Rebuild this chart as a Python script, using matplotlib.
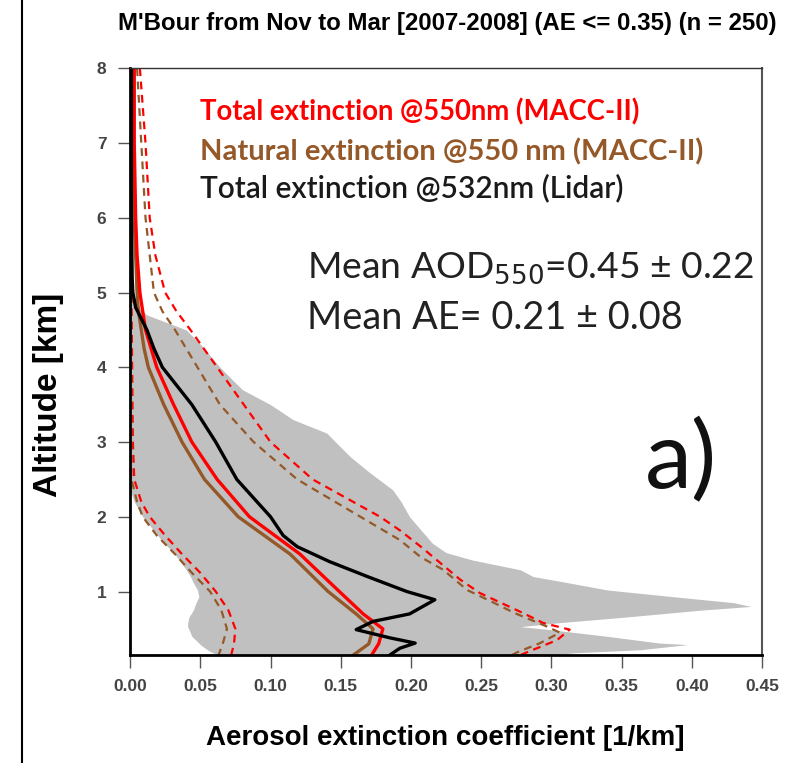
import matplotlib.pyplot as plt
from matplotlib.lines import Line2D

# gray envelope (lidar min / max)
env_alt = [5.0, 4.8, 4.7, 4.6, 4.5, 4.27, 4.0, 3.83, 3.7, 3.5, 3.3, 3.12, 2.93, 2.8, 2.6, 2.36, 2.2, 2.0,
           1.65, 1.52, 1.42, 1.29, 1.2, 1.12, 1.02, 0.93, 0.85, 0.8, 0.75, 0.66, 0.58, 0.53, 0.49, 0.40,
           0.31, 0.29, 0.22, 0.18, 0.15]
env_hi = [0.002, 0.006, 0.012, 0.026, 0.040, 0.052, 0.064, 0.073, 0.080, 0.100, 0.116, 0.140, 0.150, 0.157,
          0.170, 0.187, 0.193, 0.199, 0.215, 0.225, 0.244, 0.278, 0.287, 0.311, 0.340, 0.387, 0.430, 0.442,
          0.406, 0.354, 0.304, 0.278, 0.299, 0.340, 0.377, 0.397, 0.363, 0.316, 0.300]
env_lo = [0, 0, 0, 0, 0, 0, 0, 0, 0, 0, 0, 0, 0, 0, 0, 0, 0.003, 0.009,
          0.024, 0.031, 0.035, 0.040, 0.043, 0.045, 0.048, 0.049, 0.047, 0.046, 0.045, 0.042, 0.041, 0.041,
          0.042, 0.044, 0.049, 0.050, 0.055, 0.059, 0.063]

# MACC-II total extinction (mean)
tot_alt = [8, 7, 6, 5.5, 5, 4.75, 4.5, 4.25, 4, 3.5, 3, 2.5, 2, 1.5, 1.0, 0.7, 0.5, 0.3, 0.15]
tot_ext = [0.003, 0.003, 0.004, 0.005, 0.007, 0.009, 0.011, 0.015, 0.019, 0.031, 0.044, 0.062, 0.085, 0.121,
           0.149, 0.166, 0.180, 0.177, 0.172]
# MACC-II natural extinction (mean)
nat_alt = [8, 7, 6, 5, 4.75, 4.5, 4.25, 4, 3.5, 3, 2.5, 2, 1.5, 1.0, 0.7, 0.5, 0.3, 0.15]
nat_ext = [0.002, 0.002, 0.003, 0.005, 0.006, 0.008, 0.010, 0.013, 0.024, 0.037, 0.053, 0.077, 0.114, 0.141,
           0.161, 0.173, 0.170, 0.159]
# lidar total extinction (mean)
lid_alt = [8, 6, 5.2, 5, 4.8, 4.65, 4.5, 4.25, 4, 3.5, 3, 2.5, 2.0, 1.75, 1.6, 1.4, 1.2, 1.0, 0.89, 0.7,
           0.6, 0.49, 0.38, 0.31, 0.24, 0.15]
lid_ext = [0.001, 0.001, 0.0015, 0.002, 0.004, 0.008, 0.012, 0.017, 0.023, 0.044, 0.061, 0.076, 0.100,
           0.109, 0.119, 0.142, 0.169, 0.197, 0.217, 0.199, 0.173, 0.161, 0.185, 0.203, 0.192, 0.185]

# mean +/- std
tot_hi_alt = [8, 7, 6, 5.5, 5, 4.75, 4.5, 4, 3.5, 3, 2.5, 2.0, 1.82, 1.6, 1.16, 0.98, 0.71, 0.58, 0.49, 0.35,
              0.19, 0.15]
tot_hi = [0.007, 0.011, 0.014, 0.018, 0.025, 0.033, 0.043, 0.062, 0.081, 0.100, 0.130, 0.178, 0.192, 0.207,
          0.235, 0.249, 0.280, 0.294, 0.313, 0.304, 0.283, 0.278]
nat_hi_alt = [8, 7, 6, 5, 4.75, 4.5, 4, 3.5, 3, 2.5, 2, 1.69, 1.46, 1.29, 1.02, 0.85, 0.71, 0.53, 0.45, 0.31,
              0.19, 0.15]
nat_hi = [0.005, 0.008, 0.011, 0.017, 0.023, 0.032, 0.048, 0.064, 0.088, 0.119, 0.164, 0.192, 0.207, 0.223,
          0.240, 0.259, 0.274, 0.297, 0.306, 0.292, 0.276, 0.272]
tot_lo_alt = [8, 5, 3, 2.5, 2.2, 2.0, 1.75, 1.5, 1.25, 1.0, 0.75, 0.5, 0.3, 0.15]
tot_lo = [0.0008, 0.001, 0.002, 0.003, 0.008, 0.014, 0.025, 0.037, 0.050, 0.061, 0.070, 0.075, 0.074, 0.072]
nat_lo_alt = [8, 3, 2.5, 2.2, 2.0, 1.75, 1.5, 1.25, 1.0, 0.75, 0.5, 0.3, 0.15]
nat_lo = [0.0005, 0.0008, 0.001, 0.005, 0.009, 0.019, 0.032, 0.044, 0.057, 0.065, 0.069, 0.066, 0.063]

xticks = [0.00, 0.05, 0.10, 0.15, 0.20, 0.25, 0.30, 0.35, 0.40, 0.45]
yticks = [1, 2, 3, 4, 5, 6, 7, 8]

red = '#ff0000'
brown = '#955828'

fig = plt.figure(figsize=(7.93, 7.63), dpi=100)
ax = fig.add_axes([0.164, 0.1415, 0.797, 0.769])

ax.fill_betweenx(env_alt, env_lo, env_hi, color='#c0c0c0', lw=0)
dash = (0, (3.5, 2.5))
ax.plot(tot_hi, tot_hi_alt, color=red, lw=1.6, ls=dash)
ax.plot(nat_hi, nat_hi_alt, color=brown, lw=1.6, ls=dash)
ax.plot(tot_lo, tot_lo_alt, color=red, lw=1.6, ls=dash)
ax.plot(nat_lo, nat_lo_alt, color=brown, lw=1.6, ls=dash)
ax.plot(nat_ext, nat_alt, color=brown, lw=2.4)
ax.plot(tot_ext, tot_alt, color=red, lw=2.4)
ax.plot(lid_ext, lid_alt, color='black', lw=2.4)

ax.set_xlim(0, 0.45)
ax.set_ylim(0.15, 8)
ax.set_xticks(xticks)
ax.set_xticklabels(['%.2f' % v for v in xticks])
ax.set_yticks(yticks)
ax.tick_params(direction='out', length=9, width=1, color='#555555', labelcolor='#444444',
               labelsize=12.5, pad=8)
for lab in ax.get_xticklabels() + ax.get_yticklabels():
    lab.set_fontfamily('Liberation Sans')
    lab.set_fontweight('bold')
for s in ['left', 'bottom']:
    ax.spines[s].set_linewidth(2)
ax.spines['right'].set_linewidth(1.5)
ax.spines['right'].set_color('#555555')
ax.spines['top'].set_linewidth(1)
ax.spines['top'].set_color('#333333')

fig.text(0.564, 0.969, "M'Bour from Nov to Mar [2007-2008] (AE <= 0.35) (n = 250)",
         ha='center', va='center', fontsize=17.3, fontweight='bold', family='Liberation Sans')
fig.text(0.562, 0.033, 'Aerosol extinction coefficient [1/km]', ha='center', va='center',
         fontsize=20, fontweight='bold', family='Liberation Sans')
fig.text(0.061, 0.482, 'Altitude [km]', ha='center', va='center', rotation=90,
         fontsize=24, fontweight='bold', family='Liberation Sans')

ax.text(0.111, 0.925, 'Total extinction @550nm (MACC-II)', transform=ax.transAxes, color=red,
        fontsize=19.8, fontweight='bold', family='Lato', va='center')
ax.text(0.111, 0.857, 'Natural extinction @550 nm (MACC-II)', transform=ax.transAxes, color=brown,
        fontsize=21, fontweight='bold', family='Lato', va='center')
ax.text(0.111, 0.796, 'Total extinction @532nm (Lidar)', transform=ax.transAxes, color='#1a1a1a',
        fontsize=21.5, fontweight='semibold', family='Lato', va='center')
ax.text(0.28, 0.659, 'Mean AOD$_{550}$=0.45 ± 0.22', transform=ax.transAxes, color='#222222',
        fontsize=26.8, family='Lato', va='center')
ax.text(0.28, 0.574, 'Mean AE= 0.21 ± 0.08', transform=ax.transAxes, color='#222222',
        fontsize=27.3, family='Lato', va='center')
ax.text(0.815, 0.33, 'a)', transform=ax.transAxes, color='#111111',
        fontsize=68, family='Lato', va='center')

fig.add_artist(Line2D([0.028, 0.028], [0, 1], color='black', lw=1.5))

fig.savefig('out.png', dpi=100)
